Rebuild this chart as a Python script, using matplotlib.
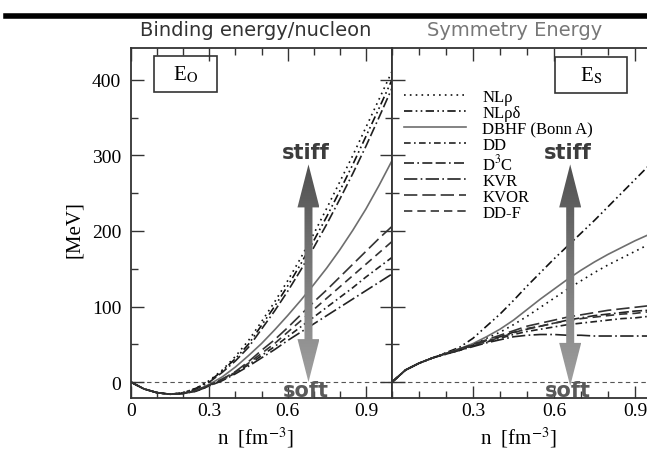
import numpy as np
import matplotlib.pyplot as plt
from matplotlib.patches import Polygon, Rectangle
from matplotlib.lines import Line2D
from matplotlib.colors import LinearSegmentedColormap
from matplotlib.ticker import MultipleLocator

plt.rcParams['font.family'] = ['Liberation Serif', 'DejaVu Serif']
plt.rcParams['mathtext.fontset'] = 'stix'

# density grid [fm^-3]
n = [0.00, 0.05, 0.10, 0.15, 0.20, 0.25, 0.30, 0.35, 0.40, 0.45, 0.50,
     0.55, 0.60, 0.65, 0.70, 0.75, 0.80, 0.85, 0.90, 0.95, 1.00]

# binding energy per nucleon E0 [MeV]
e0_nlr = [0, -9, -14, -16, -14, -8, 2, 16, 34, 55, 80, 106, 134, 164, 196, 230, 265, 300, 337, 374, 411]
e0_nlrd = [0, -9, -14, -16, -14, -8, 1, 15, 31, 50, 75, 100, 127, 156, 187, 219, 253, 288, 325, 362, 400]
e0_dbhf = [0, -9, -14, -16, -15, -11, -3, 7, 20, 35, 51, 69, 88, 108, 129, 151, 175, 201, 229, 260, 293]
e0_dd = [0, -9, -14, -16, -15, -12, -5, 3, 12, 23, 35, 47, 60, 73, 86, 99, 112, 125, 139, 152, 165]
e0_d3c = [0, -9, -14, -16, -15, -9, 0, 13, 28, 46, 70, 94, 120, 148, 178, 209, 242, 276, 312, 350, 389]
e0_kvr = [0, -9, -14, -16, -15, -12, -5, 2, 11, 21, 32, 43, 55, 66, 77, 88, 99, 110, 121, 132, 143]
e0_kvor = [0, -9, -14, -16, -15, -11, -4, 4, 14, 27, 42, 56, 72, 89, 106, 122, 139, 156, 173, 190, 206]
e0_ddf = [0, -9, -14, -16, -15, -11, -4, 4, 13, 25, 38, 51, 66, 81, 96, 111, 126, 141, 156, 171, 186]

# symmetry energy Es [MeV]
es_nlr = [0, 16, 25, 32, 38, 44, 50, 58, 66, 76, 87, 99, 111, 123, 134, 145, 155, 164, 173, 182, 190]
es_nlrd = [0, 16, 25, 32, 39, 46, 58, 74, 90, 108, 127, 145, 163, 180, 197, 214, 232, 250, 268, 286, 303]
es_dbhf = [0, 16, 25, 32, 38, 44, 51, 60, 70, 82, 96, 110, 123, 136, 148, 159, 169, 178, 187, 195, 203]
es_dd = [0, 16, 25, 32, 37, 42, 48, 53, 58, 63, 67, 70, 73, 76, 78, 80, 82, 84, 85, 87, 88]
es_d3c = [0, 16, 25, 32, 38, 43, 49, 55, 60, 66, 70, 74, 78, 82, 85, 88, 90, 92, 94, 95, 96]
es_kvr = [0, 16, 25, 32, 37, 42, 47, 52, 56, 60, 62, 63, 63, 62, 62, 61, 61, 61, 61, 61, 61]
es_kvor = [0, 16, 25, 32, 38, 44, 50, 56, 62, 68, 74, 78, 82, 86, 89, 92, 95, 97, 99, 101, 103]
es_ddf = [0, 16, 25, 32, 38, 43, 49, 54, 59, 65, 71, 74, 78, 81, 84, 86, 88, 90, 91, 93, 94]

labels = ['NLρ', 'NLρδ', 'DBHF (Bonn A)', 'DD', 'D$^3$C', 'KVR', 'KVOR', 'DD-F']
e0_all = [e0_nlr, e0_nlrd, e0_dbhf, e0_dd, e0_d3c, e0_kvr, e0_kvor, e0_ddf]
es_all = [es_nlr, es_nlrd, es_dbhf, es_dd, es_d3c, es_kvr, es_kvor, es_ddf]

styles = [
    dict(color='#111111', ls=(0, (1, 2.5))),
    dict(color='#111111', ls=(0, (5, 2, 1, 2, 1, 2))),
    dict(color='#6e6e6e', ls='-'),
    dict(color='#222222', ls=(0, (4, 2, 1, 2))),
    dict(color='#222222', ls=(0, (6, 2, 1, 2, 6, 2))),
    dict(color='#222222', ls=(0, (8, 2, 1, 2))),
    dict(color='#333333', ls=(0, (8, 3))),
    dict(color='#333333', ls=(0, (5, 3))),
]

# stiff/soft arrow position (n, lower, upper)
arrow_left = (0.68, 0, 288)
arrow_right = (0.66, -5, 288)

ymin, ymax = -21, 442
ypx = 350 / (ymax - ymin)

fig = plt.figure(figsize=(6.47, 4.64), dpi=100)
axL = fig.add_axes([131 / 647, 65 / 464, 261 / 647, 350 / 464])
axR = fig.add_axes([392 / 647, 65 / 464, 270 / 647, 350 / 464])

for ax, data in [(axL, e0_all), (axR, es_all)]:
    for y, lab, st in zip(data, labels, styles):
        ax.plot(n, y, lw=1.2, label=lab, **st)
    ax.axhline(0, color='#555555', lw=0.8, ls=(0, (4, 3)), zorder=1)

cm = LinearSegmentedColormap.from_list('g', ['#505050', '#7a7a7a', '#a0a0a0'])


def double_arrow(ax, x, lo, hi, xpx):
    w = 4 / xpx
    hw = 11 / xpx
    hl = 43 / ypx
    pts = [(x, hi), (x + hw, hi - hl), (x + w, hi - hl), (x + w, lo + hl),
           (x + hw, lo + hl), (x, lo), (x - hw, lo + hl), (x - w, lo + hl),
           (x - w, hi - hl), (x - hw, hi - hl)]
    poly = Polygon(pts, closed=True, facecolor='none', edgecolor='none')
    ax.add_patch(poly)
    grad = np.linspace(0, 1, 200).reshape(-1, 1)
    im = ax.imshow(grad, extent=[x - hw, x + hw, lo, hi], origin='upper',
                   cmap=cm, aspect='auto', zorder=6)
    im.set_clip_path(poly)


double_arrow(axL, *arrow_left, 261)
double_arrow(axR, *arrow_right, 270)

for ax, (x, lo, hi) in [(axL, arrow_left), (axR, arrow_right)]:
    ax.text(x - 0.01, hi + 17, 'stiff', ha='center', va='center', fontsize=15,
            fontweight='bold', family='DejaVu Sans', color='#3c3c3c', zorder=7)
    ax.text(x - 0.01, -11, 'soft', ha='center', va='center', fontsize=15,
            fontweight='bold', family='DejaVu Sans', color='#5a5a5a', zorder=7)

for ax in (axL, axR):
    ax.set_xlim(0, 1.0)
    ax.set_ylim(ymin, ymax)
    ax.set_yticks([0, 100, 200, 300, 400])
    ax.yaxis.set_minor_locator(MultipleLocator(50))
    ax.xaxis.set_minor_locator(MultipleLocator(0.1))
    ax.tick_params(which='both', direction='in', top=True, right=True,
                   width=1.0, color='#333333', labelsize=14)
    ax.tick_params(which='major', length=9)
    ax.tick_params(which='minor', length=5)
    ax.tick_params(axis='y', pad=7)
    ax.tick_params(axis='x', pad=3)
    for sp in ax.spines.values():
        sp.set_linewidth(1.3)
        sp.set_color('#333333')

axL.set_xticks([0, 0.3, 0.6, 0.9])
axL.set_xticklabels(['0', '0.3', '0.6', '0.9'])
axR.set_xticks([0.3, 0.6, 0.9])
axR.set_xticklabels(['0.3', '0.6', '0.9'])
axR.xaxis.set_minor_locator(MultipleLocator(0.1))
axR.tick_params(axis='y', labelleft=False)

axL.set_ylabel('[MeV]', fontsize=15)
axL.yaxis.set_label_coords(-0.18, 0.483)
axL.set_xlabel('n  [fm$^{-3}$]', fontsize=15)
axL.xaxis.set_label_coords(0.475, -0.075)
axR.set_xlabel('n  [fm$^{-3}$]', fontsize=15)
axR.xaxis.set_label_coords(0.467, -0.075)

# E0 / Es boxes
for ax, cx, cy, bw, txt in [(axL, 0.21, 0.926, 0.241, r'E$_\mathrm{O}$'),
                            (axR, 0.737, 0.923, 0.267, r'E$_\mathrm{S}$')]:
    ax.add_patch(Rectangle((cx - bw / 2, cy - 0.0515), bw, 0.103, transform=ax.transAxes,
                           fill=False, lw=1.2, ec='#333333', zorder=8))
    ax.text(cx, cy, txt, transform=ax.transAxes, ha='center', va='center', fontsize=15)

axR.legend(loc='upper left', bbox_to_anchor=(0.045, 0.882), frameon=False, fontsize=12,
           handlelength=3.7, handletextpad=1.0, labelspacing=0.0, borderaxespad=0,
           borderpad=0)

fig.text(256 / 647, 1 - 31 / 464, 'Binding energy/nucleon', ha='center', va='center',
         fontsize=14, family='DejaVu Sans', color='#333333')
fig.text(515 / 647, 1 - 31 / 464, 'Symmetry Energy', ha='center', va='center',
         fontsize=14, family='DejaVu Sans', color='#777777')
fig.add_artist(Line2D([6 / 647, 1], [1 - 17 / 464, 1 - 17 / 464], lw=4, color='k',
                      transform=fig.transFigure))

fig.savefig('out.png', dpi=100)
